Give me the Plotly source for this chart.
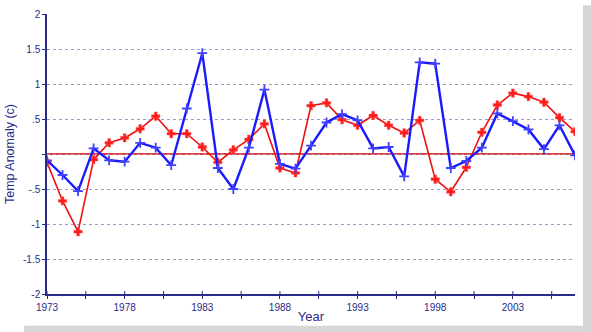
import plotly.graph_objects as go

years = list(range(1973, 2008))
blue_vals = [-0.09, -0.30, -0.53, 0.08, -0.09, -0.11, 0.16, 0.09, -0.16, 0.65,
             1.44, -0.20, -0.50, 0.09, 0.92, -0.14, -0.21, 0.12, 0.45, 0.57,
             0.48, 0.08, 0.10, -0.32, 1.31, 1.29, -0.20, -0.10, 0.09, 0.58,
             0.47, 0.35, 0.07, 0.41, -0.02]
red_vals = [-0.12, -0.67, -1.11, -0.08, 0.16, 0.23, 0.36, 0.54, 0.29, 0.29,
            0.10, -0.12, 0.06, 0.21, 0.43, -0.20, -0.27, 0.69, 0.73, 0.49,
            0.41, 0.55, 0.41, 0.30, 0.48, -0.36, -0.54, -0.19, 0.31, 0.70,
            0.87, 0.82, 0.74, 0.52, 0.32]
y_ticks = [-2, -1.5, -1, -0.5, 0, 0.5, 1, 1.5, 2]
y_ticktext = ["-2", "-1.5", "-1", "-.5", "", ".5", "1", "1.5", "2"]
x_label_years = [1973, 1978, 1983, 1988, 1993, 1998, 2003]

navy = "#2a2a8a"

fig = go.Figure()
fig.add_trace(go.Scatter(
    x=years, y=red_vals, mode="lines+markers",
    line=dict(color="#ee1111", width=1.6),
    marker=dict(symbol="cross", size=7, color="#ff1a1a",
                line=dict(width=0.5, color="#ff5555")),
    showlegend=False))
fig.add_trace(go.Scatter(
    x=years, y=blue_vals, mode="lines+markers",
    line=dict(color="#1a1aff", width=2.4),
    marker=dict(symbol="cross-thin", size=7, color="#3333ff",
                line=dict(width=1.8, color="#4040ff")),
    showlegend=False))

# zero line
fig.add_shape(type="line", xref="x", yref="y", x0=1973, x1=2007, y0=0, y1=0,
              line=dict(color="#cc0000", width=1.5), layer="below")

# x-axis ticks crossing the axis line (inside part)
tick_pos = [1973 + 2.5 * i for i in range(14)]
for t in tick_pos:
    fig.add_shape(type="line", xref="x", yref="paper", x0=t, x1=t,
                  y0=0, y1=3 / 286, line=dict(color="#2a2a8a", width=1))

# frame shadow
fig.add_shape(type="rect", xref="paper", yref="paper",
              x0=(583 - 45) / 530, x1=(592 - 45) / 530,
              y0=(294 - 333) / 286, y1=(294 + 1) / 286,
              fillcolor="#d6d6d6", line=dict(width=0), layer="below")
fig.add_shape(type="rect", xref="paper", yref="paper",
              x0=(22 - 45) / 530, x1=(592 - 45) / 530,
              y0=(294 - 333) / 286, y1=(294 - 326.5) / 286,
              fillcolor="#d6d6d6", line=dict(width=0), layer="below")

fig.update_layout(
    width=591, height=332,
    margin=dict(l=45, r=16, t=8, b=38),
    paper_bgcolor="white", plot_bgcolor="white",
    font=dict(family="Liberation Sans, Arial", color=navy),
    xaxis=dict(
        range=[1973, 2007], showgrid=False, zeroline=False,
        showline=True, linecolor=navy, linewidth=1.5,
        tickmode="array", tickvals=tick_pos,
        ticktext=[str(int(t)) if i % 2 == 0 else "" for i, t in enumerate(tick_pos)],
        ticks="outside", ticklen=3, tickcolor=navy, tickwidth=1,
        tickfont=dict(size=10, color=navy),
        title=dict(text="Year", font=dict(size=13, color=navy), standoff=0),
    ),
    yaxis=dict(
        range=[-2, 2], showgrid=True, gridcolor="#9a9ac8", griddash="dot",
        gridwidth=1.2, zeroline=False,
        showline=True, linecolor=navy, linewidth=1.5,
        tickmode="array", tickvals=y_ticks, ticktext=y_ticktext,
        ticks="outside", ticklen=3, tickcolor=navy,
        tickfont=dict(size=10, color=navy),
        title=dict(text="Temp Anomaly (c)", font=dict(size=12.5, color=navy), standoff=6),
    ),
)

fig.write_html("out.html")
